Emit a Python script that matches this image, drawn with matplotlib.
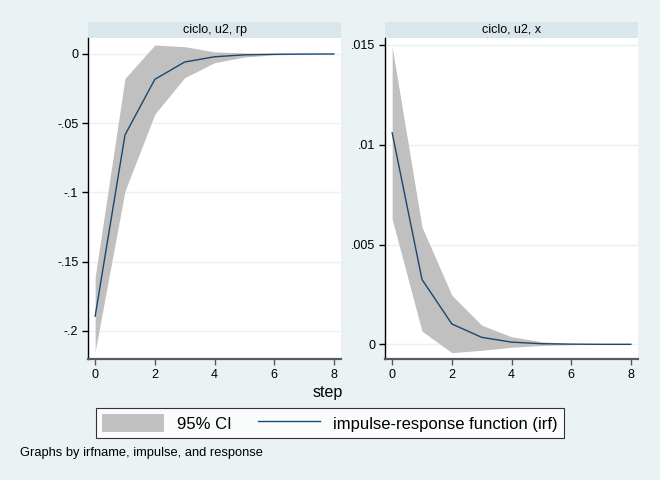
import matplotlib
matplotlib.use("Agg")
import matplotlib.pyplot as plt
from matplotlib.patches import Rectangle, Patch
from matplotlib.lines import Line2D

plt.rcParams['font.family'] = ['Liberation Sans', 'DejaVu Sans']

steps = [0, 1, 2, 3, 4, 5, 6, 7, 8]

# ciclo, u2, rp
rp_irf = [-0.1894, -0.0585, -0.0183, -0.0058, -0.0020, -0.0006, -0.0002, -0.00005, 0.0]
rp_lo = [-0.2150, -0.0990, -0.0434, -0.0171, -0.0063, -0.0022, -0.0006, -0.0002, 0.0]
rp_hi = [-0.1610, -0.0176, 0.0065, 0.0053, 0.0015, 0.0008, 0.0002, 0.00005, 0.0]

# ciclo, u2, x
x_irf = [0.0106, 0.00325, 0.00102, 0.00035, 0.00011, 0.00003, 0.00001, 0.0, 0.0]
x_lo = [0.00627, 0.00066, -0.00042, -0.00030, -0.00015, -0.00006, -0.00002, 0.0, 0.0]
x_hi = [0.0149, 0.00588, 0.00246, 0.00096, 0.00038, 0.00013, 0.00003, 0.0, 0.0]

panels = [
    ("ciclo, u2, rp", rp_irf, rp_lo, rp_hi,
     [0, -0.05, -0.1, -0.15, -0.2], ["0", "-.05", "-.1", "-.15", "-.2"], (-0.2204, 0.01156)),
    ("ciclo, u2, x", x_irf, x_lo, x_hi,
     [0, 0.005, 0.01, 0.015], ["0", ".005", ".01", ".015"], (-0.000736, 0.01535)),
]

bg = '#eaf2f3'
strip = '#d9e6eb'
ci_col = '#c0c0c0'
line_col = '#1a476f'

fig = plt.figure(figsize=(6.6, 4.8), dpi=100, facecolor=bg)

lefts = [88 / 660, 385 / 660]
for (title, irf, lo, hi, yt, ytl, ylim), left in zip(panels, lefts):
    ax = fig.add_axes([left, 1 - 359 / 480, 253 / 660, 321 / 480])
    ax.set_facecolor('white')
    ax.fill_between(steps, lo, hi, color=ci_col, linewidth=0, zorder=2)
    ax.plot(steps, irf, color=line_col, linewidth=1.0, zorder=3)
    ax.set_xlim(-0.24, 8.24)
    ax.set_ylim(*ylim)
    ax.set_xticks([0, 2, 4, 6, 8])
    ax.set_yticks(yt)
    ax.set_yticklabels(ytl)
    ax.yaxis.grid(True, color=bg, linewidth=1.0, zorder=1)
    ax.set_axisbelow(True)
    for s in ['top', 'right']:
        ax.spines[s].set_visible(False)
    ax.spines['left'].set_color('black')
    ax.spines['left'].set_linewidth(1.0)
    ax.spines['bottom'].set_color('#5a5a5a')
    ax.spines['bottom'].set_linewidth(1.6)
    ax.tick_params(axis='both', direction='out', length=4, width=1.0,
                   labelsize=9, colors='black', pad=3)
    ax.tick_params(axis='x', color='#5a5a5a')
    # title strip
    ax.add_patch(Rectangle((0, 1), 1, 16 / 321, transform=ax.transAxes,
                           facecolor=strip, edgecolor='none', clip_on=False))
    ax.text(0.5, 1 + 8 / 321, title, transform=ax.transAxes, ha='center',
            va='center', fontsize=9)

fig.text(328 / 660, 1 - 392 / 480, "step", ha='center', va='center', fontsize=11.5)

handles = [Patch(facecolor=ci_col, edgecolor='none'),
           Line2D([0], [0], color=line_col, linewidth=1.0)]
leg = fig.legend(handles, ["95% CI", "impulse-response function (irf)"],
                 loc='center', bbox_to_anchor=(330 / 660, 1 - 423 / 480),
                 ncol=2, fontsize=12, frameon=True, fancybox=False,
                 handlelength=3.7, handleheight=1.3, columnspacing=1.6,
                 borderpad=0.35, handletextpad=0.8)
leg.get_frame().set_edgecolor('black')
leg.get_frame().set_linewidth(0.8)
leg.get_frame().set_facecolor('white')

fig.text(20 / 660, 1 - 453 / 480, "Graphs by irfname, impulse, and response",
         ha='left', va='center', fontsize=9.3)

fig.savefig("out.png", dpi=100, facecolor=bg)
